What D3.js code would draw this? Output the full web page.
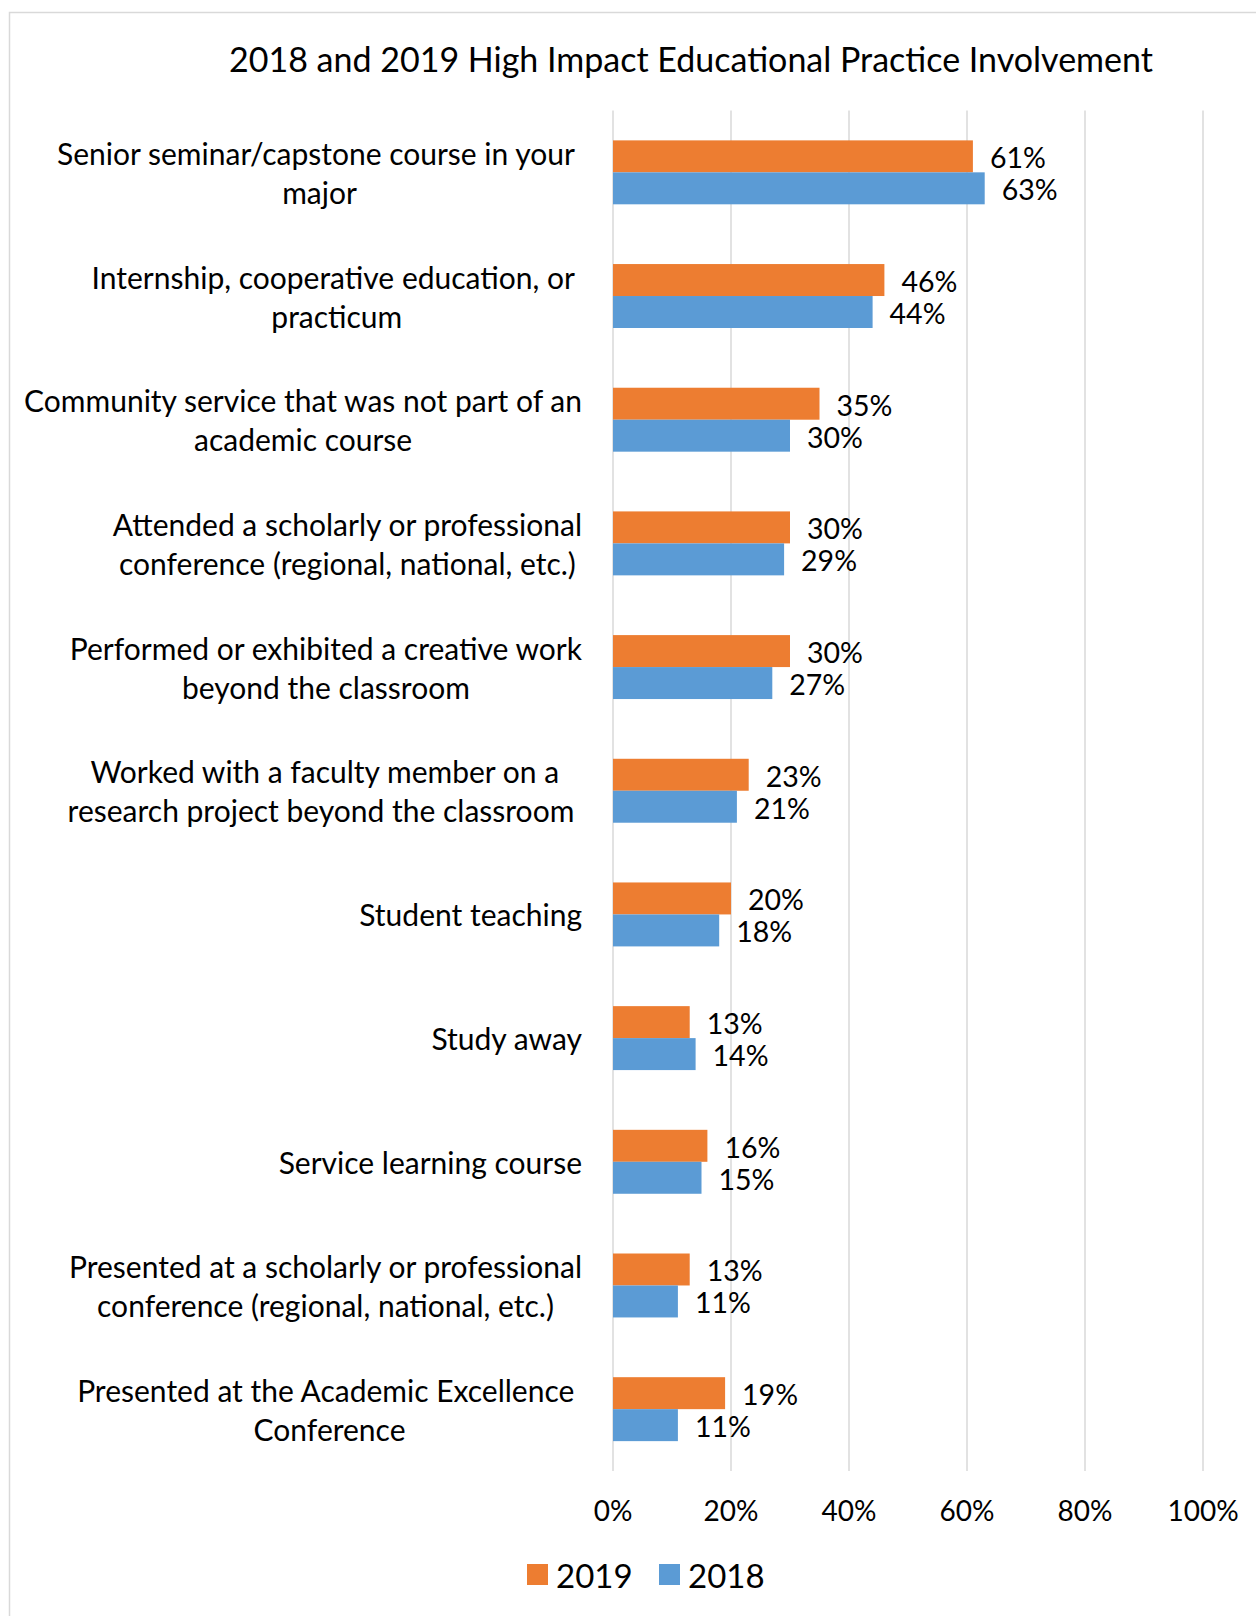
<!DOCTYPE html>
<html><head><meta charset="utf-8">
<script src="https://cdn.jsdelivr.net/npm/d3@7"></script>
<style>html,body{margin:0;padding:0;background:#fff}svg{display:block}</style>
</head><body>
<script>
const categories = [
  ["Senior seminar/capstone course in your\u00A0","major"],
  ["Internship, cooperative education, or\u00A0","practicum"],
  ["Community service that was not part of an","academic course"],
  ["Attended a scholarly or professional","conference (regional, national, etc.)"],
  ["Performed or exhibited a creative work","beyond the classroom"],
  ["Worked with a faculty member on a","research project beyond the classroom\u00A0"],
  ["Student teaching"],
  ["Study away"],
  ["Service learning course"],
  ["Presented at a scholarly or professional","conference (regional, national, etc.)"],
  ["Presented at the Academic Excellence\u00A0","Conference"]
];
const values2019 = [61,46,35,30,30,23,20,13,16,13,19];
const values2018 = [63,44,30,29,27,21,18,14,15,11,11];
const tickValues = [0,20,40,60,80,100];
const seriesNames = ["2019","2018"];
const colors = {"2019":"#ED7D31","2018":"#5B9BD5"};

const W = 1256, H = 1616;
const FONT = "Lato, 'Open Sans', sans-serif";
const svg = d3.select("body").append("svg").attr("width",W).attr("height",H);

svg.append("rect").attr("x",9.5).attr("y",12.5).attr("width",1400).attr("height",1800)
  .attr("fill","none").attr("stroke","#D9D9D9").attr("stroke-width",1.5);

svg.append("text").attr("x",691).attr("y",58).attr("text-anchor","middle")
  .attr("dominant-baseline","central").attr("font-family",FONT).attr("font-size",34)
  .attr("fill","#000").text("2018 and 2019 High Impact Educational Practice Involvement");

const x = d3.scaleLinear().domain([0,100]).range([613,1203]);
const y = d3.scaleBand().domain(d3.range(categories.length)).range([110.5,1471]).paddingInner(0.483).paddingOuter(0.2415);
const sub = d3.scaleBand().domain(seriesNames).range([0,y.bandwidth()]);

// gridlines
svg.append("g").selectAll("line").data(tickValues).join("line")
  .attr("x1",d=>x(d)).attr("x2",d=>x(d)).attr("y1",110.5).attr("y2",1471)
  .attr("stroke","#D9D9D9").attr("stroke-width",1.5);

// tick labels
svg.append("g").selectAll("text").data(tickValues).join("text")
  .attr("x",d=>x(d)).attr("y",1510).attr("text-anchor","middle").attr("dominant-baseline","central")
  .attr("font-family",FONT).attr("font-size",28).attr("fill","#000").text(d=>d+"%");

const data = [];
categories.forEach((c,i)=>{
  data.push({i, s:"2019", v:values2019[i]});
  data.push({i, s:"2018", v:values2018[i]});
});

svg.append("g").selectAll("rect").data(data).join("rect")
  .attr("x",x(0)).attr("y",d=>y(d.i)+sub(d.s)).attr("width",d=>x(d.v)-x(0))
  .attr("height",sub.bandwidth()).attr("fill",d=>colors[d.s]);

svg.append("g").selectAll("text").data(data).join("text")
  .attr("x",d=>x(d.v)+17).attr("y",d=>y(d.i)+sub(d.s)+sub.bandwidth()/2+1)
  .attr("dominant-baseline","central").attr("font-family",FONT).attr("font-size",28.5)
  .attr("fill","#000").text(d=>d.v+"%");

// category labels
const labelRight = 582;
const lg = svg.append("g");
categories.forEach((lines,i)=>{
  const cy = y(i)+y.bandwidth()/2;
  const t = lg.append("text").attr("font-family",FONT).attr("font-size",30).attr("fill","#000")
    .attr("text-anchor","middle").attr("dominant-baseline","central").attr("xml:space","preserve");
  const tspans = lines.map((l,k)=>t.append("tspan").attr("y",cy+(k-(lines.length-1)/2)*39).text(l));
  let maxW = 0;
  tspans.forEach(ts=>{maxW=Math.max(maxW,ts.node().getComputedTextLength());});
  tspans.forEach(ts=>ts.attr("x",labelRight-maxW/2));
});

// legend
const legend = [{s:"2019",x:527},{s:"2018",x:659}];
const lgd = svg.append("g");
legend.forEach(l=>{
  lgd.append("rect").attr("x",l.x).attr("y",1564).attr("width",21).attr("height",21).attr("fill",colors[l.s]);
  lgd.append("text").attr("x",l.x+29).attr("y",1575).attr("dominant-baseline","central")
    .attr("font-family",FONT).attr("font-size",33).attr("fill","#000").text(l.s);
});
</script>
</body></html>
